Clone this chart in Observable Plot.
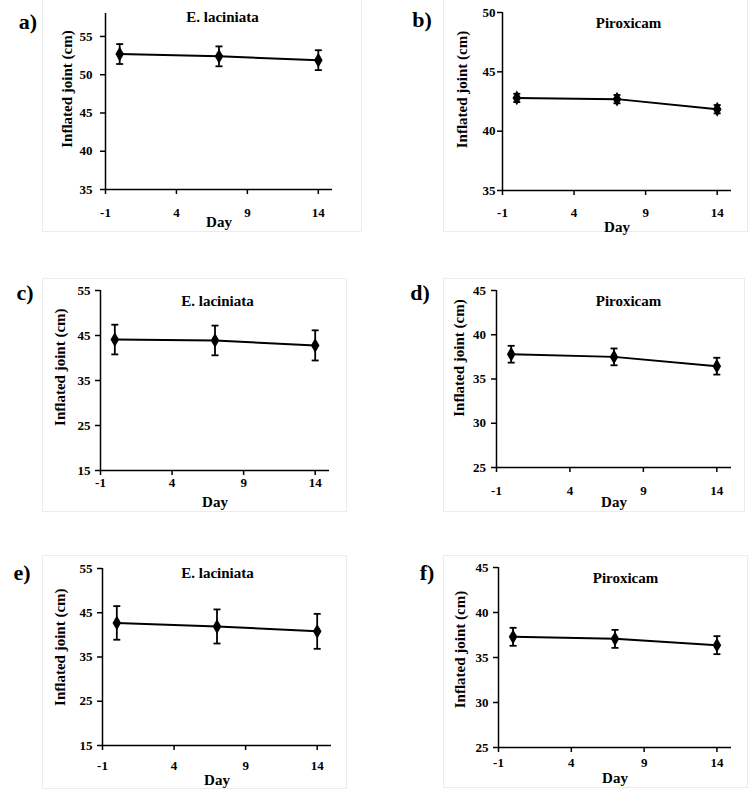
<!DOCTYPE html>
<html><head><meta charset="utf-8">
<script src="https://cdn.jsdelivr.net/npm/d3@7"></script>
<script src="https://cdn.jsdelivr.net/npm/@observablehq/plot@0.6"></script>
<style>
body{margin:0;background:#fff;}
#root{position:relative;width:750px;height:796px;background:#fff;overflow:hidden;}
.box{position:absolute;border:1px solid #ececec;box-sizing:border-box;}
.tag{position:absolute;font:bold 22px "Liberation Serif",serif;line-height:1;transform:translate(-50%,-50%);color:#000;}
.plot{position:absolute;}
</style></head><body><div id="root"></div>
<script>
// ---- data ----
const panelTags = ["a)", "b)", "c)", "d)", "e)", "f)"];
const panelTitles = ["E. laciniata", "Piroxicam", "E. laciniata", "Piroxicam", "E. laciniata", "Piroxicam"];
const days = [0, 7, 14];
const xTicks = [-1, 4, 9, 14];
const xDomain = [-1, 15];
const yLabel = "Inflated joint (cm)";
const xLabel = "Day";

const meanA = [52.7, 52.4, 51.9];
const errA  = [1.3, 1.3, 1.3];
const meanB = [42.8, 42.7, 41.85];
const errB  = [0.35, 0.35, 0.35];
const meanC = [44.1, 43.9, 42.8];
const errC  = [3.3, 3.3, 3.35];
const meanD = [37.8, 37.5, 36.45];
const errD  = [0.95, 0.95, 0.95];
const meanE = [42.7, 41.9, 40.8];
const errE  = [3.8, 3.85, 3.95];
const meanF = [37.3, 37.07, 36.37];
const errF  = [1.0, 1.0, 1.0];

const yTicksA = [35, 40, 45, 50, 55];
const yTicksB = [35, 40, 45, 50];
const yTicksC = [15, 25, 35, 45, 55];
const yTicksD = [25, 30, 35, 40, 45];
const yTicksE = [15, 25, 35, 45, 55];
const yTicksF = [25, 30, 35, 40, 45];

const yDomainA = [35, 58];
const yDomainB = [35, 50];
const yDomainC = [15, 55];
const yDomainD = [25, 45];
const yDomainE = [15, 55];
const yDomainF = [25, 45];

const means = [meanA, meanB, meanC, meanD, meanE, meanF];
const errs = [errA, errB, errC, errD, errE, errF];
const yTicksAll = [yTicksA, yTicksB, yTicksC, yTicksD, yTicksE, yTicksF];
const yDomains = [yDomainA, yDomainB, yDomainC, yDomainD, yDomainE, yDomainF];

// ---- layout (positions & styles) ----
const layout = [
  {left:0,   top:0,   w:375, h:250, ml:105, mr:43, mt:13, mb:61, xPad:13,  yPad:8, ylDx:-38, ylDy:75.5, tDx:3.5,  tDy:4,  dayDy:33, tag:[28,22],  box:[42,-2,362,232]},
  {left:375, top:0,   w:375, h:250, ml:127, mr:19, mt:12, mb:60, xPad:12,  yPad:2, ylDx:-40, ylDy:77,   tDx:11.5, tDy:11, dayDy:37, tag:[422,20], box:[443,-2,748,232]},
  {left:0,   top:260, w:375, h:260, ml:100, mr:46, mt:30, mb:50, xPad:2.5, yPad:5, ylDx:-40, ylDy:76.7, tDx:2.5,  tDy:11, dayDy:32, tag:[25,293], box:[42,278,347,512]},
  {left:375, top:260, w:375, h:260, ml:121, mr:19, mt:30, mb:53, xPad:13,  yPad:5.5, ylDx:-37, ylDy:67.5, tDx:14.5, tDy:11, dayDy:35, tag:[420,293], box:[443,278,745,512]},
  {left:0,   top:530, w:375, h:266, ml:102, mr:44, mt:38, mb:51, xPad:10.5,yPad:5, ylDx:-42, ylDy:78.7, tDx:0.5,  tDy:5,  dayDy:35, tag:[22,573], box:[42,555,347,789]},
  {left:375, top:530, w:375, h:266, ml:123, mr:19, mt:37, mb:49, xPad:5,   yPad:5, ylDx:-38, ylDy:82,   tDx:10.5, tDy:11, dayDy:31, tag:[427,573], box:[443,555,748,788]}
];

const capSymbol = {
  draw(context, size) {
    const w = Math.sqrt(size / Math.PI);
    context.moveTo(-w, 0);
    context.lineTo(w, 0);
  }
};

const root = document.getElementById("root");

panelTags.forEach((tag, i) => {
  const L = layout[i];
  const rows = days.map((d, j) => ({day: d, mean: means[i][j], lo: means[i][j] - errs[i][j], hi: means[i][j] + errs[i][j]}));
  const yDomain = yDomains[i];

  const box = document.createElement("div");
  box.className = "box";
  box.style.left = L.box[0] + "px";
  box.style.top = L.box[1] + "px";
  box.style.width = (L.box[2] - L.box[0]) + "px";
  box.style.height = (L.box[3] - L.box[1]) + "px";
  root.appendChild(box);

  const chart = Plot.plot({
    width: L.w,
    height: L.h,
    marginLeft: L.ml,
    marginRight: L.mr,
    marginTop: L.mt,
    marginBottom: L.mb,
    style: {fontFamily: "'Liberation Serif', serif", fontWeight: "bold", fontSize: "13px", color: "#000", background: "transparent", overflow: "visible"},
    x: {domain: xDomain},
    y: {domain: yDomain},
    marks: [
      Plot.axisX({ticks: xTicks, tickSize: 5, tickPadding: L.xPad, tickFormat: d => String(d), label: null, strokeWidth: 1.5, fontSize: 13}),
      Plot.axisY({ticks: yTicksAll[i], tickSize: 5, tickPadding: L.yPad, tickFormat: d => String(d), label: null, strokeWidth: 1.5, fontSize: 13}),
      Plot.ruleX([xDomain[0]], {stroke: "#000", strokeWidth: 1.5}),
      Plot.ruleY([yDomain[0]], {stroke: "#000", strokeWidth: 1.5}),
      Plot.line(rows, {x: "day", y: "mean", stroke: "#000", strokeWidth: 2}),
      Plot.ruleX(rows, {x: "day", y1: "lo", y2: "hi", stroke: "#000", strokeWidth: 1.8}),
      Plot.dot(rows, {x: "day", y: "lo", symbol: capSymbol, r: 3.5, stroke: "#000", strokeWidth: 1.8}),
      Plot.dot(rows, {x: "day", y: "hi", symbol: capSymbol, r: 3.5, stroke: "#000", strokeWidth: 1.8}),
      Plot.dot(rows, {x: "day", y: "mean", symbol: "diamond", r: 4.5, fill: "#000", stroke: "none"}),
      Plot.text([panelTitles[i]], {frameAnchor: "top", dx: L.tDx, dy: L.tDy, lineAnchor: "middle", fontSize: 15, fontWeight: "bold", fill: "#000"}),
      Plot.text([yLabel], {frameAnchor: "top-left", dx: L.ylDx, dy: L.ylDy, rotate: -90, textAnchor: "middle", lineAnchor: "middle", fontSize: 15, fontWeight: "bold", fill: "#000"}),
      Plot.text([xLabel], {frameAnchor: "bottom", dy: L.dayDy, lineAnchor: "middle", fontSize: 15, fontWeight: "bold", fill: "#000"})
    ]
  });
  chart.classList.add("plot");
  chart.style.left = L.left + "px";
  chart.style.top = L.top + "px";
  root.appendChild(chart);

  const t = document.createElement("div");
  t.className = "tag";
  t.textContent = tag;
  t.style.left = L.tag[0] + "px";
  t.style.top = L.tag[1] + "px";
  root.appendChild(t);
});
</script>
</body></html>
